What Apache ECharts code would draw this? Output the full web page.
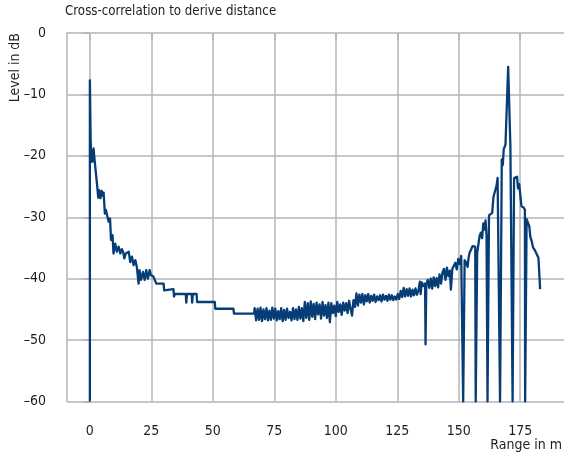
<!DOCTYPE html>
<html>
<head>
<meta charset="utf-8">
<script src="https://cdn.jsdelivr.net/npm/echarts@6/dist/echarts.min.js"></script>
<style>
  html, body { margin: 0; padding: 0; background: #fff; }
  #chart { width: 564px; height: 454px; }
</style>
</head>
<body>
<div id="chart"></div>
<script>
// [range in m, level in dB]
const directPath = [
  [0, -60], [0, -7.7], [0.3, -17], [0.6, -21.0], [0.85, -19.1], [1.2, -20.9], [1.5, -18.8],
  [1.9, -20.6], [2.4, -22.6], [3.0, -25.0], [3.4, -26.8], [3.8, -25.6], [4.3, -26.9],
  [4.8, -25.7], [5.3, -26.5], [5.6, -26.0], [6.1, -29.4], [6.5, -28.8], [7.0, -28.6],
  [7.6, -30.7], [8.2, -30.2], [8.6, -33.7], [9.2, -32.9], [9.6, -35.9], [10.3, -34.3],
  [11.0, -35.6], [11.7, -34.8], [12.4, -35.9], [13.0, -35.2], [13.5, -35.6], [14.0, -36.7],
  [14.6, -35.9], [15.1, -36.2], [15.8, -35.6], [16.4, -37.3], [17.1, -36.4], [17.8, -37.8],
  [18.5, -37.0], [19.1, -38.1], [19.8, -40.8], [20.2, -38.6], [20.8, -40.2], [21.6, -38.9],
  [22.3, -40.2], [22.9, -38.6], [23.6, -40.0], [24.3, -38.6], [24.8, -39.4], [25.9, -39.7],
  [26.6, -39.7]
]
const floorSteps = [
  [27.0, -40.8], [30.0, -40.8], [30.2, -41.9], [30.5, -41.7], [34.0, -41.7], [34.2, -42.9],
  [34.6, -42.5], [39.0, -42.5], [39.2, -43.9], [39.5, -42.5], [41.4, -42.5], [41.6, -43.9],
  [41.9, -42.5], [43.4, -42.5], [43.6, -43.8], [50.8, -43.8], [51.0, -44.9], [58.4, -44.9],
  [58.6, -45.7], [66.8, -45.7]
]
const floorNoise = [
  [67.0, -44.8], [67.6, -46.8], [68.2, -44.9], [68.8, -46.7], [69.4, -44.7], [70.0, -46.9],
  [70.6, -45.0], [71.2, -46.6], [71.8, -44.8], [72.4, -46.8], [73.0, -45.2], [73.6, -46.7],
  [74.2, -44.7], [74.8, -46.5], [75.4, -44.9], [76.0, -46.8], [76.6, -45.3], [77.2, -46.6],
  [77.8, -44.8], [78.4, -46.9], [79.0, -45.1], [79.6, -46.7], [80.2, -44.9], [80.8, -46.4],
  [81.4, -45.4], [82.0, -46.8], [82.6, -44.8], [83.2, -46.6], [83.8, -45.0], [84.4, -46.7],
  [85.0, -44.6], [85.6, -46.5], [86.2, -44.8], [86.8, -46.9], [87.4, -43.8], [88.0, -46.4],
  [88.6, -44.0], [89.2, -46.7], [89.8, -43.7], [90.4, -46.2], [91.0, -44.1], [91.6, -46.6],
  [92.2, -43.9], [92.8, -45.8], [93.4, -44.2], [94.0, -46.5], [94.6, -43.8], [95.2, -46.0],
  [95.8, -44.3], [96.4, -46.4], [97.0, -43.9], [97.6, -47.1], [98.2, -44.0], [98.8, -45.6],
  [99.4, -44.4], [100.0, -46.1], [100.6, -43.8], [101.2, -45.4], [101.8, -44.2], [102.4, -45.9],
  [103.0, -43.9], [103.6, -45.2], [104.2, -44.0], [104.8, -45.6], [105.4, -43.6], [106.0, -44.9],
  [106.6, -46.0], [107.2, -43.5], [107.8, -44.6], [108.4, -42.4], [109.0, -44.4], [109.6, -42.6],
  [110.2, -43.9], [110.8, -42.5], [111.4, -44.2], [112.0, -42.7], [112.6, -43.7], [113.2, -42.5],
  [113.8, -43.9], [114.4, -42.8], [115.0, -43.6], [115.6, -42.6], [116.2, -43.8], [116.8, -42.9],
  [117.4, -43.5], [118.0, -42.7], [118.6, -43.7], [119.2, -42.6], [119.8, -43.4], [120.4, -42.8],
  [121.0, -43.6], [121.6, -42.6], [122.2, -43.4], [122.8, -42.7], [123.4, -43.5], [124.0, -42.9],
  [124.6, -43.4], [125.2, -42.5], [125.8, -43.3]
]
const riseToEcho = [
  [126.4, -42.0], [127.0, -43.0], [127.6, -41.5], [128.2, -42.9], [128.8, -41.7], [129.4, -42.8],
  [130.0, -41.6], [130.6, -42.9], [131.2, -41.8], [131.8, -42.7], [132.4, -41.6], [133.0, -42.6],
  [133.6, -41.9], [134.2, -40.5], [134.5, -42.5], [135.0, -40.6], [135.6, -41.2], [136.3, -40.8],
  [136.5, -50.7], [136.8, -41.0], [137.4, -40.2], [138.0, -41.5], [138.6, -40.0], [139.2, -41.6],
  [139.8, -39.8], [140.4, -41.2], [141.0, -39.9], [141.6, -41.4], [142.2, -39.3], [142.8, -40.8],
  [143.4, -39.0], [144.0, -38.4], [144.6, -40.2], [145.2, -38.2], [145.8, -39.6], [146.4, -38.7],
  [146.8, -41.8], [147.4, -38.4], [148.0, -37.9], [148.6, -37.4], [149.2, -38.5], [149.8, -36.8],
  [150.4, -37.6], [151.0, -36.3], [151.5, -36.6]
]
const echoPeak = [
  [151.8, -60], [152.1, -60], [152.4, -37.0], [153.0, -37.4], [153.6, -38.1], [154.0, -36.6],
  [154.4, -35.8], [155.0, -35.3], [155.6, -34.7], [156.2, -35.0], [156.7, -34.8], [156.9, -60],
  [157.2, -60], [157.5, -35.8], [158.0, -34.4], [158.5, -33.0], [159.0, -32.5], [159.5, -33.4],
  [160.0, -31.0], [160.5, -32.0], [160.9, -30.5], [161.3, -33.0], [161.7, -60], [162.0, -60],
  [162.3, -29.7], [163.0, -29.5], [163.6, -29.3], [164.1, -26.7], [164.8, -26.4], [165.4, -24.8],
  [165.8, -23.6], [166.3, -23.4], [166.8, -60], [167.1, -60], [167.5, -20.6], [167.9, -21.5],
  [168.3, -18.9], [169.0, -18.2], [170.1, -5.5], [171.0, -18.4], [171.6, -18.7], [171.9, -60],
  [172.2, -60], [172.5, -23.6], [173.1, -23.5], [173.7, -23.4], [174.1, -25.3], [174.6, -24.6],
  [175.1, -26.7], [175.5, -28.2], [176.4, -28.4], [176.9, -28.8], [177.0, -60], [177.3, -60],
  [177.6, -30.3], [178.2, -30.6], [178.7, -31.5], [179.1, -33.2], [179.6, -33.8], [180.2, -34.9],
  [181.0, -35.4], [181.8, -35.6], [182.4, -36.6], [182.9, -36.8], [183.1, -41.7]
]
const xTicks = [0, 25, 50, 75, 100, 125, 150, 175]

const font = "'Liberation Sans Narrow', 'DejaVu Sans Condensed', 'Arial Narrow', sans-serif"
const gridColor = '#b3b5b8'
const textColor = '#1e1e1e'

const chart = echarts.init(document.getElementById('chart'), null, { renderer: 'canvas' })

const option = {
  animation: false,
  backgroundColor: '#fff',
  title: {
    text: 'Cross-correlation to derive distance',
    left: 65,
    top: 5,
    padding: 0,
    textStyle: { fontFamily: font, fontSize: 13.2, fontWeight: 'normal', color: textColor }
  },
  graphic: [
    {
      type: 'text',
      x: 15,
      y: 33,
      rotation: Math.PI / 2,
      style: {
        text: 'Level in dB',
        font: `14px ${font}`,
        fill: textColor,
        align: 'right',
        verticalAlign: 'middle'
      }
    },
    {
      type: 'text',
      x: 562,
      y: 445,
      style: {
        text: 'Range in m',
        font: `14px ${font}`,
        fill: textColor,
        align: 'right',
        verticalAlign: 'middle'
      }
    }
  ],
  grid: { left: 67, right: 0, top: 33, bottom: 52.5 },
  xAxis: {
    type: 'value',
    min: -9.3,
    max: 192.8,
    offset: 5,
    axisLine: { show: false },
    axisTick: { show: true, length: 7, customValues: xTicks, lineStyle: { color: gridColor, width: 1.5 } },
    axisLabel: { customValues: xTicks, margin: 18, color: textColor, fontFamily: font, fontSize: 14 },
    splitLine: { show: true, lineStyle: { color: gridColor, width: 1.5 } }
  },
  yAxis: [
    {
      type: 'value',
      min: -60,
      max: 0,
      interval: 10,
      offset: 5,
      axisLine: { show: false },
      axisTick: { show: true, length: 7, lineStyle: { color: gridColor, width: 1.5 } },
      axisLabel: {
        margin: 16,
        color: textColor,
        fontFamily: font,
        fontSize: 14,
        formatter: v => String(v).replace('-', '\u2013')
      },
      splitLine: { show: true, lineStyle: { color: gridColor, width: 1.5 } }
    },
    {
      type: 'value',
      min: -60,
      max: 0,
      position: 'left',
      axisLine: { show: true, lineStyle: { color: gridColor, width: 1.5 } },
      axisTick: { show: false },
      axisLabel: { show: false },
      splitLine: { show: false }
    }
  ],
  series: [
    {
      type: 'line',
      yAxisIndex: 0,
      data: [...directPath, ...floorSteps, ...floorNoise, ...riseToEcho, ...echoPeak],
      showSymbol: false,
      symbol: 'none',
      lineStyle: { color: '#073d77', width: 2.3, join: 'round' },
      silent: true
    }
  ]
}

chart.setOption(option)
</script>
</body>
</html>
